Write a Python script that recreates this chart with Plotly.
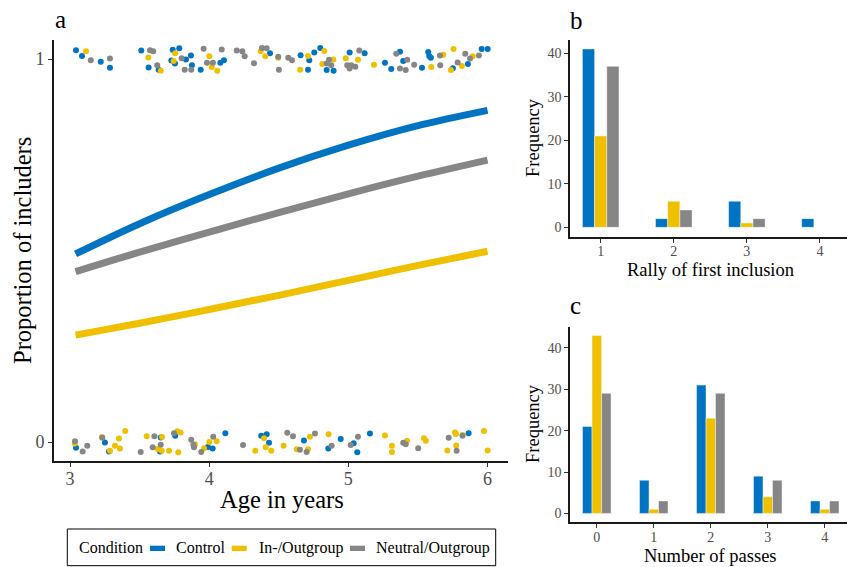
import plotly.graph_objects as go

W, H = 847, 567
FONT = "Liberation Serif"
C_BLUE, C_YEL, C_GRAY = "#0073C2", "#EFC000", "#868686"
conditions = ["Control", "In-/Outgroup", "Neutral/Outgroup"]
colors = [C_BLUE, C_YEL, C_GRAY]

# ---- Panel a: fitted curves ----
curve_age = [3.04, 3.5, 4.0, 4.5, 5.0, 5.5, 6.0]
curve_control = [0.491, 0.570, 0.646, 0.715, 0.775, 0.826, 0.866]
curve_inout = [0.279, 0.310, 0.346, 0.383, 0.422, 0.461, 0.498]
curve_neutral = [0.445, 0.496, 0.548, 0.599, 0.648, 0.694, 0.736]

# ---- Panel a: jittered raw outcomes (included = ~1, not = ~0) ----
control_age = [3.043, 3.086, 3.221, 3.287, 3.512, 3.565, 3.637, 3.738, 3.785, 3.728, 3.754, 3.833, 3.869,
               3.876, 3.939, 4.080, 4.106, 4.437, 4.657, 4.719, 4.710, 4.755, 4.798, 4.844, 4.894, 5.009,
               5.117, 5.263, 5.308, 5.371, 5.394, 5.529, 5.574, 5.581, 5.593, 5.751, 5.859, 5.958, 6.001,
               3.043, 3.251, 3.280, 3.652, 3.647, 3.756, 3.991, 4.025, 4.116, 4.374, 4.413, 4.430, 4.681,
               4.945, 4.856, 5.038, 5.064, 5.155, 5.864]
control_y = [1.023, 1.008, 0.993, 0.977, 1.022, 0.978, 0.972, 1.024, 1.028, 0.996, 0.988, 0.999, 1.009,
             0.984, 0.972, 0.990, 0.997, 1.015, 1.010, 0.997, 0.972, 1.017, 1.029, 0.971, 0.969, 1.017,
             1.015, 0.990, 0.974, 1.019, 0.995, 0.977, 1.018, 1.008, 1.003, 0.976, 0.987, 1.026, 1.026,
             -0.015, -0.001, -0.025, 0.012, -0.025, 0.016, -0.013, -0.017, 0.023, 0.016, 0.020, -0.002, 0.004,
             0.008, -0.017, -0.003, -0.027, 0.022, 0.023]
inout_age = [3.115, 3.563, 3.652, 3.756, 3.745, 4.001, 4.018, 4.058, 4.370, 4.403, 4.496, 4.710, 4.654,
             4.827, 4.813, 4.892, 4.981, 5.069, 5.184, 5.682, 5.756, 5.596, 5.737, 5.816, 5.893,
             3.034, 3.230, 3.287, 3.323, 3.359, 3.352, 3.397, 3.551, 3.661, 3.630, 3.659, 3.711, 3.778,
             3.771, 3.795, 3.898, 3.963, 4.001, 4.054, 4.331, 4.394, 4.406, 4.446, 4.535, 4.724, 4.629,
             4.710, 4.858, 5.263, 5.313, 5.313, 5.421, 5.543, 5.557, 5.766, 5.773, 5.821, 5.775, 5.711,
             5.974, 6.001]
inout_y = [1.020, 1.004, 0.969, 1.015, 0.995, 1.007, 0.979, 0.969, 1.020, 1.007, 1.003, 1.008, 0.972,
           1.021, 0.987, 0.999, 1.002, 0.998, 0.985, 1.011, 1.026, 0.979, 0.971, 0.982, 1.007,
           -0.004, 0.013, -0.023, -0.010, -0.017, 0.009, 0.029, 0.015, 0.013, -0.018, -0.023, -0.023, -0.027,
           0.028, 0.025, -0.006, -0.016, 0.000, 0.002, -0.023, 0.010, -0.014, -0.023, -0.010, 0.014, -0.019,
           -0.019, 0.020, 0.017, -0.010, -0.026, 0.003, 0.010, 0.003, 0.025, 0.021, 0.018, -0.009, -0.022,
           0.029, -0.022]
neutral_age = [3.149, 3.287, 3.575, 3.598, 3.627, 3.802, 3.824, 3.871, 3.960, 4.090, 3.984, 4.027, 4.198,
               4.238, 4.255, 4.322, 4.379, 4.413, 4.496, 4.501, 4.568, 4.595, 4.844, 4.861, 4.877, 5.078,
               4.992, 5.021, 5.050, 5.009, 5.344, 5.423, 5.473, 5.371, 5.412, 5.658, 5.660, 5.840, 5.785,
               5.874, 5.938,
               3.036, 3.091, 3.124, 3.232, 3.606, 3.652, 3.594, 3.508, 3.747, 3.871, 3.886, 3.891, 3.943,
               4.029, 4.243, 4.561, 4.602, 4.760, 4.652, 4.700, 4.880, 5.069, 5.017, 5.394, 5.412, 5.502,
               5.721, 5.820, 5.778]
neutral_y = [0.997, 1.001, 1.023, 1.020, 0.984, 1.002, 0.972, 0.972, 1.027, 1.025, 0.990, 0.990, 1.022,
             1.020, 1.007, 0.989, 1.029, 1.028, 1.006, 0.972, 1.003, 0.997, 0.988, 0.998, 0.984, 1.022,
             0.984, 0.984, 0.980, 0.975, 1.014, 0.998, 0.985, 0.975, 0.971, 1.009, 0.984, 1.014, 0.991,
             1.001, 1.009,
             0.002, -0.025, -0.010, 0.011, 0.015, -0.007, -0.014, -0.026, 0.023, 0.006, -0.007, -0.014, -0.026,
             0.014, -0.008, 0.024, 0.015, 0.022, -0.020, -0.026, -0.010, 0.014, -0.008, -0.002, -0.006, -0.016,
             0.011, 0.016, -0.023]

# ---- Panel b: rally of first inclusion ----
rally = [1, 2, 3, 4]
rally_control = [41, 2, 6, 2]
rally_inout = [21, 6, 1, 0]
rally_neutral = [37, 4, 2, 0]

# ---- Panel c: number of passes ----
passes = [0, 1, 2, 3, 4]
passes_control = [21, 8, 31, 9, 3]
passes_inout = [43, 1, 23, 4, 1]
passes_neutral = [29, 3, 29, 8, 3]


def px(x):
    return x / W


def py(y):
    return 1 - y / H


fig = go.Figure()

# panel a curves
for yv, col in zip([curve_control, curve_inout, curve_neutral], colors):
    fig.add_trace(go.Scatter(x=curve_age, y=yv, mode="lines",
                             line=dict(color=col, width=7, shape="spline", smoothing=1.0),
                             xaxis="x", yaxis="y", showlegend=False, hoverinfo="skip"))
# panel a points
for xa, ya, col in zip([control_age, inout_age, neutral_age], [control_y, inout_y, neutral_y], colors):
    fig.add_trace(go.Scatter(x=xa, y=ya, mode="markers", marker=dict(color=col, size=6, line=dict(width=0)),
                             xaxis="x", yaxis="y", showlegend=False))

bar_line = dict(color="rgba(255,255,255,0.55)", width=0.8)
# panel b
for name, yv, col in zip(conditions, [rally_control, rally_inout, rally_neutral], colors):
    fig.add_trace(go.Bar(x=rally, y=yv, name=name, marker=dict(color=col, line=bar_line),
                         xaxis="x2", yaxis="y2", showlegend=False))
# panel c
for name, yv, col in zip(conditions, [passes_control, passes_inout, passes_neutral], colors):
    fig.add_trace(go.Bar(x=passes, y=yv, name=name, marker=dict(color=col, line=bar_line),
                         xaxis="x3", yaxis="y3", showlegend=False))


def axis(size, standoff=0, **kw):
    d = dict(showline=True, linecolor="#1a1a1a", linewidth=1.6, ticks="outside", ticklen=4,
             tickwidth=1.1, tickcolor="#333333", showgrid=False, zeroline=False,
             automargin=False, tickfont=dict(family=FONT, color="#4D4D4D", size=size),
             ticklabelstandoff=standoff)
    d.update(kw)
    return d


fig.update_layout(
    width=W, height=H, margin=dict(l=0, r=0, t=0, b=0),
    paper_bgcolor="white", plot_bgcolor="white",
    font=dict(family=FONT),
    barmode="group", bargap=0.5, bargroupgap=0,
    showlegend=False,
    xaxis=axis(18, -3, domain=[px(54), px(508)], range=[2.885, 6.147], tickvals=[3, 4, 5, 6], anchor="y"),
    yaxis=axis(18, 0, domain=[py(461), py(40)], range=[-0.0496, 1.0496], tickvals=[0, 1], anchor="x"),
    xaxis2=axis(14, -3, domain=[px(570), 1.0], range=[0.58, 4.37], tickvals=[1, 2, 3, 4], anchor="y2"),
    yaxis2=axis(14, 0, domain=[py(236.7), py(40)], range=[-2.15, 43.05], tickvals=[0, 10, 20, 30, 40],
                anchor="x2"),
    xaxis3=axis(14, -3, domain=[px(570), 1.0], range=[-0.47, 4.39], tickvals=[0, 1, 2, 3, 4], anchor="y3"),
    yaxis3=axis(14, 0, domain=[py(522.3), py(326.7)], range=[-2.15, 45.1], tickvals=[0, 10, 20, 30, 40],
                anchor="x3"),
)

ann = []


def text(t, x, y, size, angle=0, xanchor="center", yanchor="middle", color="black"):
    ann.append(dict(text=t, x=px(x), y=py(y), xref="paper", yref="paper", showarrow=False,
                    xanchor=xanchor, yanchor=yanchor, textangle=angle,
                    font=dict(family=FONT, size=size, color=color)))


# panel labels
text("a", 60, 19, 25)
text("b", 576, 20, 25)
text("c", 575, 305, 25)
# axis titles
text("Proportion of includers", 22, 251, 24.5, angle=-90)
text("Age in years", 281.5, 499, 24.5)
text("Frequency", 533, 138, 18.5, angle=-90)
text("Rally of first inclusion", 710.5, 270, 18.5)
text("Frequency", 533, 424, 18.5, angle=-90)
text("Number of passes", 710.5, 556, 18.5)

# legend (drawn manually)
shapes = [dict(type="rect", xref="paper", yref="paper", x0=px(67.3), x1=px(495.7), y0=py(565.7), y1=py(529),
               line=dict(color="black", width=1), fillcolor="white")]
leg_keys = [(150, 165), (231.7, 246.7), (350, 365)]
leg_text_x = [174, 256.7, 374]
for (k0, k1), tx, name, col in zip(leg_keys, leg_text_x, conditions, colors):
    shapes.append(dict(type="rect", xref="paper", yref="paper", x0=px(k0), x1=px(k1), y0=py(551), y1=py(545.7),
                       line=dict(width=0), fillcolor=col))
    text(name, tx, 547.5, 16, xanchor="left")
text("Condition", 76.7, 547.5, 16, xanchor="left")

fig.update_layout(annotations=ann, shapes=shapes)
fig.write_html("out.html")
